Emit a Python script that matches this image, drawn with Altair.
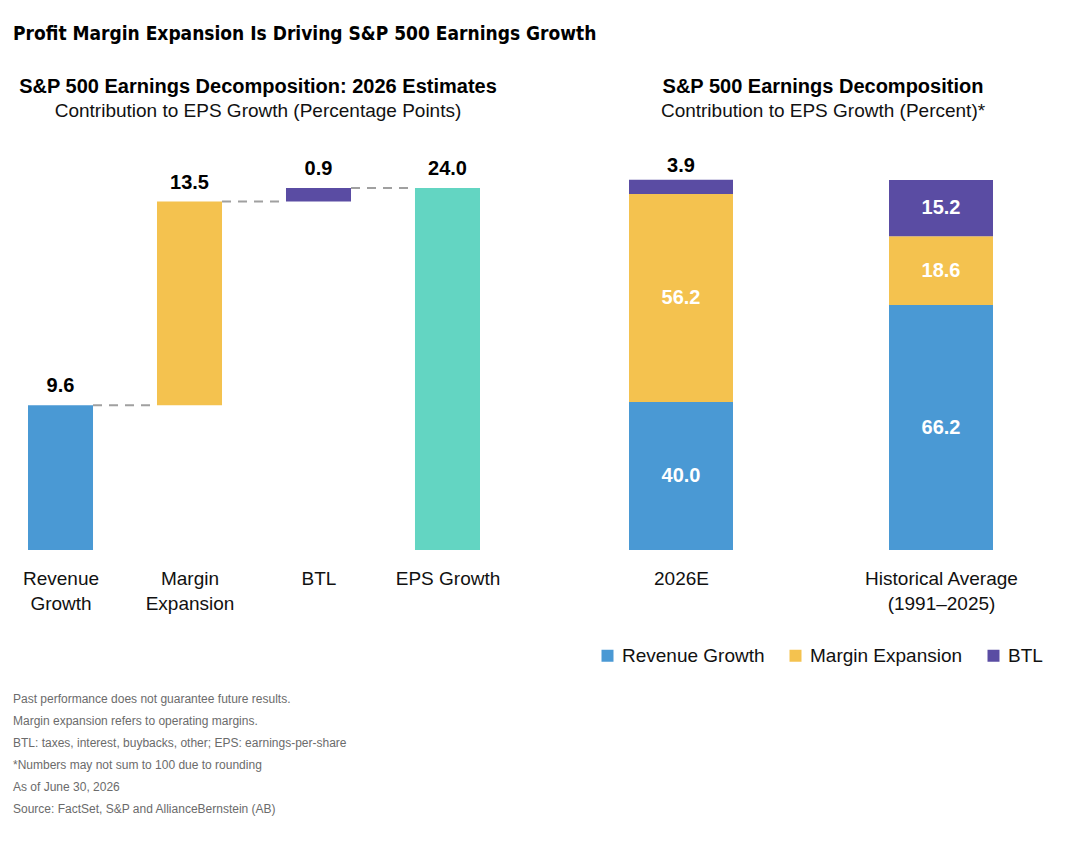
import altair as alt
import pandas as pd

# --- Left panel: waterfall of EPS growth contributions (percentage points)
wf_labels = ["Revenue\nGrowth", "Margin\nExpansion", "BTL", "EPS Growth"]
wf_values = [9.6, 13.5, 0.9, 24.0]
wf_colors = ["#4A99D4", "#F4C24F", "#5A4CA3", "#63D5C2"]

# --- Right panel: stacked share of EPS growth (percent)
st_groups = ["2026E", "Historical Average\n(1991–2025)"]
st_series = ["Revenue Growth", "Margin Expansion", "BTL"]
st_revenue = [40.0, 66.2]
st_margin = [56.2, 18.6]
st_btl = [3.9, 15.2]
st_colors = ["#4A99D4", "#F4C24F", "#5A4CA3"]

notes = [
    "Past performance does not guarantee future results.",
    "Margin expansion refers to operating margins.",
    "BTL: taxes, interest, buybacks, other; EPS: earnings-per-share",
    "*Numbers may not sum to 100 due to rounding",
    "As of June 30, 2026",
    "Source: FactSet, S&P and AllianceBernstein (AB)",
]

FONT = "Liberation Sans"
HEAD_FONT = "'DejaVu Sans Condensed', 'DejaVu Sans', sans-serif"
LBL = 19     # category / legend label size
VAL = 20     # value label size
HALF = 0.252  # half bar width in x units (waterfall)
SHALF = 0.2   # half bar width in x units (stacked)


def label_expr(labels):
    joined = ", ".join("'" + s.replace("\n", "|") + "'" for s in labels)
    return "split([" + joined + "][datum.value], '|')"


# waterfall rows: running total
rows = []
run = 0.0
for i, (lab, v, c) in enumerate(zip(wf_labels, wf_values, wf_colors)):
    if i == len(wf_labels) - 1:
        lo, hi = 0.0, v
    else:
        lo, hi = run, run + v
        run = hi
    rows.append(dict(i=i, x0=i - HALF, x1=i + HALF, lo=lo, hi=hi,
                     val=f"{v:.1f}", color=c))
wf = pd.DataFrame(rows)

conn = pd.DataFrame([
    dict(x0=i + HALF, x1=i + 1 - HALF, y=wf.loc[i, "hi"])
    for i in range(len(wf_labels) - 1)
])

axis_style = dict(title=None, domain=False, ticks=False, grid=False,
                  labelFontSize=LBL, labelFont=FONT, labelColor="#111",
                  labelPadding=19, labelLineHeight=25, labelBaseline="top")

left_x = alt.X("x0:Q", scale=alt.Scale(domain=[-HALF, 3 + HALF], nice=False, zero=False),
               axis=alt.Axis(values=list(range(len(wf_labels))),
                             labelExpr=label_expr(wf_labels), **axis_style))
left_y = alt.Y("lo:Q", scale=alt.Scale(domain=[0, 24.0 * 370 / 362], nice=False), axis=None)

wf_bars = alt.Chart(wf).mark_rect().encode(
    x=left_x, x2="x1:Q", y=left_y, y2="hi:Q",
    color=alt.Color("color:N", scale=None),
)
wf_text = alt.Chart(wf).mark_text(font=FONT, fontSize=VAL, fontWeight="bold",
                                  color="#000", baseline="bottom", dy=-9).encode(
    x=alt.X("i:Q"), y=alt.Y("hi:Q"), text="val:N",
)
wf_conn = alt.Chart(conn).mark_rule(color="#A0A0A0", strokeWidth=2, strokeDash=[9, 7]).encode(
    x="x0:Q", x2="x1:Q", y="y:Q",
)
note_text = alt.Chart(pd.DataFrame({"t": ["\n".join(notes)]})).mark_text(
    font=FONT, fontSize=12, color="#6b6b6b", align="left", baseline="middle",
    lineBreak="\n", lineHeight=22,
).encode(x=alt.value(-15), y=alt.value(519), text="t:N")

left = alt.layer(wf_bars, wf_conn, wf_text, note_text).properties(
    width=452, height=370,
    title=alt.Title("S&P 500 Earnings Decomposition: 2026 Estimates",
                    subtitle="Contribution to EPS Growth (Percentage Points)",
                    anchor="middle", dx=4, font=FONT, fontSize=20, fontWeight="bold",
                    color="#000", subtitleFont=FONT, subtitleFontSize=19,
                    subtitleColor="#111", subtitlePadding=5, offset=38),
)

# stacked segments
srows = []
for g, grp in enumerate(st_groups):
    base = 0.0
    for s, vals in zip(st_series, [st_revenue, st_margin, st_btl]):
        v = vals[g]
        inside = v >= 8
        srows.append(dict(g=g, x0=g - SHALF, x1=g + SHALF, lo=base, hi=base + v,
                          mid=base + v / 2 if inside else base + v,
                          series=s, val=f"{v:.1f}", inside=inside))
        base += v
st = pd.DataFrame(srows)

right_x = alt.X("x0:Q", scale=alt.Scale(domain=[-SHALF, 1 + SHALF], nice=False, zero=False),
                axis=alt.Axis(values=[0, 1], labelExpr=label_expr(st_groups), **axis_style))
right_y = alt.Y("lo:Q", scale=alt.Scale(domain=[0, 100], nice=False), axis=None)

st_bars = alt.Chart(st).mark_rect().encode(
    x=right_x, x2="x1:Q", y=right_y, y2="hi:Q",
    color=alt.Color("series:N",
                    scale=alt.Scale(domain=st_series, range=st_colors),
                    sort=st_series,
                    legend=alt.Legend(title=None, orient="none", direction="horizontal",
                                      legendX=570, legendY=466,
                                      symbolType="square", symbolSize=144,
                                      symbolStrokeWidth=0, labelFont=FONT,
                                      labelFontSize=LBL, labelColor="#111",
                                      columnPadding=21, labelOffset=5)),
)
st_in = alt.Chart(st[st["inside"]]).mark_text(font=FONT, fontSize=VAL, fontWeight="bold",
                                              color="white", baseline="middle").encode(
    x=alt.X("g:Q"), y=alt.Y("mid:Q"), text="val:N",
)
st_out = alt.Chart(st[~st["inside"]]).mark_text(font=FONT, fontSize=VAL, fontWeight="bold",
                                                color="#000", baseline="bottom", dy=-4).encode(
    x=alt.X("g:Q"), y=alt.Y("mid:Q"), text="val:N",
)

right = alt.layer(st_bars, st_in, st_out).properties(
    width=364, height=370,
    title=alt.Title("S&P 500 Earnings Decomposition",
                    subtitle="Contribution to EPS Growth (Percent)*",
                    anchor="middle", dx=12, font=FONT, fontSize=20, fontWeight="bold",
                    color="#000", subtitleFont=FONT, subtitleFontSize=19,
                    subtitleColor="#111", subtitlePadding=5, offset=35),
)

chart = alt.hconcat(left, right, spacing=129).properties(
    title=alt.Title("Profit Margin Expansion Is Driving S&P 500 Earnings Growth",
                    anchor="start", font=HEAD_FONT, fontSize=19,
                    fontWeight="bold", color="#000", offset=33),
    padding={"left": 13, "top": 24, "right": 10, "bottom": 10},
    background="white",
).configure_view(stroke=None)

chart.save("out.html", embed_options={"renderer": "svg", "actions": False})
